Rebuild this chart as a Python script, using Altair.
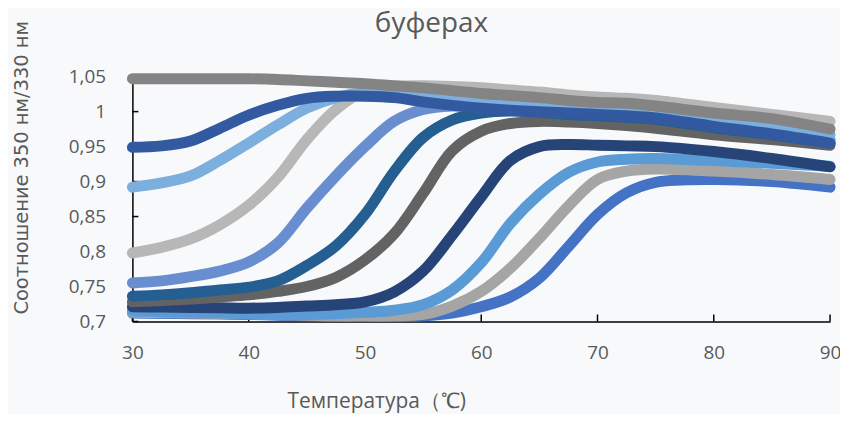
import altair as alt
import pandas as pd

# Temperatures (°C) at which values were read
temps = [30, 32.5, 35, 37.5, 40, 42.5, 45, 47.5, 50, 52.5, 55, 57.5, 60, 62.5, 65, 67.5, 70, 72.5, 75, 80, 85, 90]

# Series values (ratio 350/330 nm), drawn in this order (first = bottom)
s1 = [0.712, 0.7115, 0.711, 0.7105, 0.710, 0.709, 0.708, 0.707, 0.707, 0.707, 0.708, 0.712, 0.721, 0.735, 0.762, 0.807, 0.853, 0.884, 0.899, 0.903, 0.900, 0.892]
s2 = [0.713, 0.7125, 0.712, 0.7115, 0.711, 0.710, 0.709, 0.708, 0.708, 0.708, 0.710, 0.722, 0.743, 0.776, 0.819, 0.865, 0.903, 0.915, 0.918, 0.915, 0.910, 0.903]
s3 = [0.715, 0.714, 0.713, 0.712, 0.711, 0.710, 0.710, 0.711, 0.713, 0.716, 0.724, 0.745, 0.784, 0.840, 0.882, 0.913, 0.928, 0.932, 0.933, 0.930, 0.926, 0.922]
s4 = [0.721, 0.7205, 0.720, 0.7195, 0.719, 0.720, 0.722, 0.724, 0.728, 0.742, 0.772, 0.823, 0.878, 0.930, 0.950, 0.953, 0.952, 0.951, 0.950, 0.943, 0.933, 0.921]
s5 = [0.728, 0.730, 0.732, 0.735, 0.738, 0.743, 0.750, 0.763, 0.788, 0.825, 0.883, 0.944, 0.972, 0.983, 0.986, 0.985, 0.983, 0.980, 0.976, 0.967, 0.960, 0.952]
s6 = [0.736, 0.738, 0.741, 0.745, 0.749, 0.758, 0.780, 0.808, 0.853, 0.914, 0.963, 0.988, 0.998, 1.001, 0.999, 0.996, 0.994, 0.992, 0.989, 0.977, 0.967, 0.955]
s7 = [0.755, 0.758, 0.764, 0.772, 0.785, 0.812, 0.862, 0.908, 0.950, 0.986, 1.003, 1.008, 1.007, 1.004, 1.001, 0.999, 0.997, 0.995, 0.993, 0.983, 0.973, 0.960]
s8 = [0.798, 0.806, 0.818, 0.838, 0.866, 0.906, 0.960, 1.003, 1.030, 1.036, 1.037, 1.036, 1.034, 1.031, 1.028, 1.024, 1.021, 1.019, 1.016, 1.006, 0.996, 0.986]
s9 = [0.892, 0.898, 0.908, 0.930, 0.955, 0.981, 1.005, 1.020, 1.027, 1.026, 1.022, 1.017, 1.012, 1.008, 1.005, 1.002, 1.000, 0.998, 0.995, 0.987, 0.979, 0.967]
s10 = [0.949, 0.951, 0.958, 0.976, 0.995, 1.009, 1.019, 1.022, 1.022, 1.020, 1.014, 1.009, 1.005, 1.002, 1.000, 0.998, 0.996, 0.994, 0.991, 0.979, 0.968, 0.955]
s11 = [1.047, 1.047, 1.047, 1.047, 1.047, 1.046, 1.044, 1.042, 1.040, 1.037, 1.034, 1.030, 1.026, 1.023, 1.020, 1.016, 1.013, 1.012, 1.008, 0.998, 0.990, 0.975]

series = [s1, s2, s3, s4, s5, s6, s7, s8, s9, s10, s11]
colors = ["#4472C4", "#A5A5A5", "#5B9BD5", "#264478", "#636363", "#255E91",
          "#698ED0", "#B7B7B7", "#7CAFDD", "#335AA1", "#848484"]

x_ticks = [30, 40, 50, 60, 70, 80, 90]
y_ticks = [0.7, 0.75, 0.8, 0.85, 0.9, 0.95, 1.0, 1.05]

title_text = "буферах"
x_title = "Температура（℃)"
y_title = "Соотношение 350 нм/330 нм"

W, H = 701, 246
TXT = "#595959"

x_scale = alt.Scale(domain=[30, 90], nice=False, zero=False)
y_scale = alt.Scale(domain=[0.7, 1.05], nice=False, zero=False)

x_axis = alt.Axis(
    values=x_ticks, ticks=False, tickSize=0, grid=False,
    domainColor="#000000", domainWidth=1.5,
    labelFont="Open Sans", labelFontSize=19, labelColor=TXT, labelPadding=22,
    labelFlush=False,
    title=x_title, titleFont="Open Sans", titleFontSize=21, titleFontWeight="normal",
    titleColor=TXT, titleX=245, titleY=80, titleBaseline="middle", titleAlign="center",
)
y_axis = alt.Axis(
    values=y_ticks, ticks=False, tickSize=0, grid=False,
    domainColor="#000000", domainWidth=1.5,
    labelFont="Open Sans", labelFontSize=19, labelColor=TXT, labelPadding=27,
    labelExpr="replace(toString(round(datum.value*100)/100), '.', ',')",
    title=y_title, titleFont="DejaVu Sans", titleFontSize=19.5, titleFontWeight="normal",
    titleColor=TXT, titleX=-111, titleY=91, titleAngle=270,
    titleBaseline="middle", titleAlign="center",
)

X = alt.X("t:Q", scale=x_scale, axis=x_axis)
Y = alt.Y("v:Q", scale=y_scale, axis=y_axis)

layers = []
for vals, col in zip(series, colors):
    df = pd.DataFrame({"t": temps, "v": vals})
    layers.append(
        alt.Chart(df).mark_line(
            color=col, strokeWidth=11, strokeCap="round", strokeJoin="round",
            interpolate="catmull-rom",
        ).encode(x=X, y=Y)
    )

xt = pd.DataFrame({"t": x_ticks})
yt = pd.DataFrame({"v": y_ticks})
x_tick_marks = alt.Chart(xt).mark_rule(color="#000000", strokeWidth=1.5).encode(
    x=X, y=alt.value(H), y2=alt.value(H - 7),
)
y_tick_marks = alt.Chart(yt).mark_rule(color="#000000", strokeWidth=1.5).encode(
    y=Y, x=alt.value(0), x2=alt.value(6),
)

chart = alt.layer(x_tick_marks, y_tick_marks, *layers).properties(
    width=W, height=H,
    title=alt.TitleParams(
        text=title_text, font="Open Sans", fontSize=28, fontWeight="normal",
        color=TXT, anchor="middle", frame="group", dx=-50, offset=0, dy=18,
    ),
    autosize=alt.AutoSizeParams(type="none"),
    padding={"left": 125, "top": 68, "right": 10, "bottom": 92},
    background="#f8f9fb",
).configure_view(stroke=None)

chart.save("out.html", embed_options={"renderer": "svg", "actions": False})
